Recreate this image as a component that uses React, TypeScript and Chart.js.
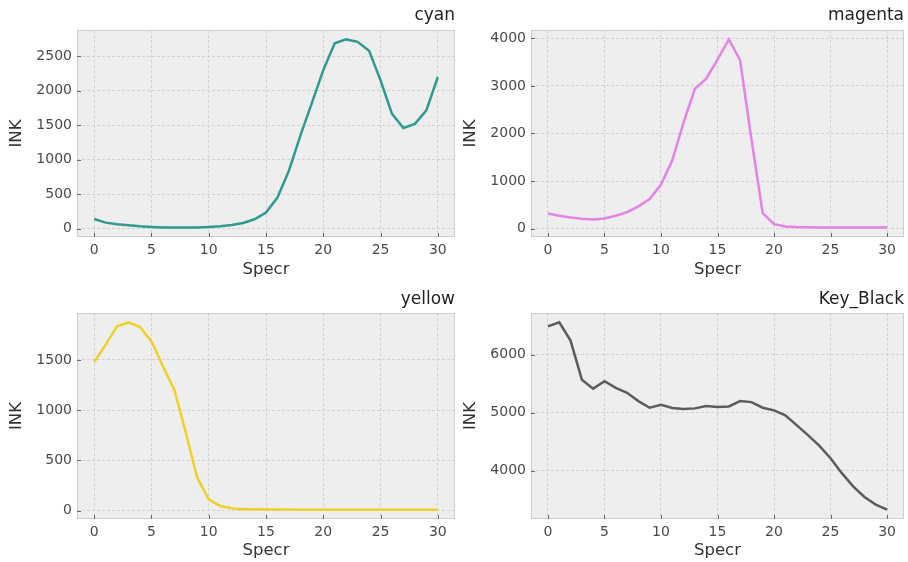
import React, { useEffect, useRef } from "react";
import { Chart, registerables } from "chart.js";

Chart.register(...registerables);

const specr = [0, 1, 2, 3, 4, 5, 6, 7, 8, 9, 10, 11, 12, 13, 14, 15, 16, 17, 18, 19, 20, 21, 22, 23, 24, 25, 26, 27, 28, 29, 30];

const cyanInk = [140, 87, 63, 49, 34, 24, 17, 15, 15, 17, 24, 34, 53, 82, 136, 233, 450, 840, 1350, 1820, 2300, 2690, 2745, 2710, 2580, 2150, 1665, 1460, 1520, 1715, 2200];
const magentaInk = [318, 269, 233, 205, 191, 212, 269, 346, 466, 622, 926, 1435, 2233, 2940, 3152, 3555, 3979, 3540, 1880, 325, 92, 42, 30, 26, 24, 22, 21, 20, 20, 20, 20];
const yellowInk = [1477, 1652, 1834, 1874, 1828, 1685, 1437, 1205, 775, 328, 113, 46, 23, 15, 13, 12, 11, 11, 10, 10, 10, 10, 10, 10, 10, 10, 10, 10, 10, 10, 10];
const blackInk = [6484, 6553, 6239, 5567, 5413, 5541, 5427, 5342, 5199, 5085, 5137, 5080, 5063, 5074, 5114, 5097, 5108, 5199, 5182, 5085, 5040, 4954, 4786, 4615, 4433, 4217, 3960, 3732, 3550, 3419, 3333];

const xTicks = [0, 5, 10, 15, 20, 25, 30];
const cyanTicks = [0, 500, 1000, 1500, 2000, 2500];
const magentaTicks = [0, 1000, 2000, 3000, 4000];
const yellowTicks = [0, 500, 1000, 1500];
const blackTicks = [4000, 5000, 6000];

const panelTitles = ["cyan", "magenta", "yellow", "Key_Black"];
const xLabel = "Specr";
const yLabel = "INK";

const FONT = "'DejaVu Sans', 'Liberation Sans', sans-serif";

type Panel = {
  title: string;
  values: number[];
  yTicks: number[];
  color: string;
  left: number;
  top: number;
  width: number;
  height: number;
  padRight: number;
  titleTop: number;
  titleBottom: number;
  xHeight: number;
};

const panels: Panel[] = [
  { title: panelTitles[0], values: cyanInk, yTicks: cyanTicks, color: "#2f9a92", left: 0, top: 0, width: 456, height: 281, padRight: 1, titleTop: 5, titleBottom: 4.6, xHeight: 44 },
  { title: panelTitles[1], values: magentaInk, yTicks: magentaTicks, color: "#e682e6", left: 454, top: 0, width: 454, height: 281, padRight: 4, titleTop: 5, titleBottom: 4.6, xHeight: 44 },
  { title: panelTitles[2], values: yellowInk, yTicks: yellowTicks, color: "#efd02a", left: 0, top: 281, width: 456, height: 281, padRight: 1, titleTop: 8.5, titleBottom: 3.1, xHeight: 43 },
  { title: panelTitles[3], values: blackInk, yTicks: blackTicks, color: "#5c5c5c", left: 454, top: 281, width: 454, height: 281, padRight: 4, titleTop: 8.5, titleBottom: 3.1, xHeight: 43 },
];

const framePlugin = {
  id: "frame",
  beforeDraw(chart: any) {
    const { ctx, chartArea: a } = chart;
    ctx.save();
    ctx.fillStyle = "#eeeeee";
    ctx.fillRect(a.left, a.top, a.right - a.left, a.bottom - a.top);
    ctx.restore();
  },
  afterDraw(chart: any) {
    const { ctx, chartArea: a, scales } = chart;
    ctx.save();
    ctx.strokeStyle = "#cfcfcf";
    ctx.lineWidth = 1;
    ctx.strokeRect(a.left + 0.5, a.top + 0.5, a.right - a.left - 1, a.bottom - a.top - 1);
    ctx.strokeStyle = "#666666";
    ctx.lineWidth = 1;
    ctx.beginPath();
    for (const t of scales.x.ticks) {
      const px = Math.round(scales.x.getPixelForValue(t.value)) + 0.5;
      ctx.moveTo(px, a.bottom);
      ctx.lineTo(px, a.bottom - 4);
    }
    for (const t of scales.y.ticks) {
      const py = Math.round(scales.y.getPixelForValue(t.value)) + 0.5;
      ctx.moveTo(a.left, py);
      ctx.lineTo(a.left + 4, py);
    }
    ctx.stroke();
    ctx.restore();
  },
};

function PanelChart({ p }: { p: Panel }) {
  const ref = useRef<HTMLCanvasElement | null>(null);
  useEffect(() => {
    if (!ref.current) return;
    const minV = Math.min(...p.values);
    const maxV = Math.max(...p.values);
    const margin = (maxV - minV) * 0.05;
    const chart = new Chart(ref.current, {
      type: "line",
      data: {
        datasets: [
          {
            data: p.values.map((v, i) => ({ x: specr[i], y: v })),
            borderColor: p.color,
            borderWidth: 2.5,
            pointRadius: 0,
            tension: 0,
            fill: false,
          },
        ],
      },
      plugins: [framePlugin],
      options: {
        animation: false,
        responsive: false,
        devicePixelRatio: 1,
        layout: { padding: { left: 0, right: p.padRight, top: 0, bottom: 0 } },
        plugins: {
          legend: { display: false },
          tooltip: { enabled: false },
          title: {
            display: true,
            text: p.title,
            align: "end",
            color: "#222222",
            font: { family: FONT, size: 17, weight: "normal" },
            padding: { top: p.titleTop, bottom: p.titleBottom },
          },
        },
        scales: {
          x: {
            type: "linear",
            min: -1.5,
            max: 31.5,
            afterFit: (s: any) => {
              s.height = p.xHeight;
            },
            afterBuildTicks: (s: any) => {
              s.ticks = xTicks.map((v) => ({ value: v }));
            },
            ticks: {
              padding: 5,
              color: "#4a4a4a",
              font: { family: FONT, size: 14 },
              maxRotation: 0,
              autoSkip: false,
              callback: (v: any) => String(v),
            },
            grid: { color: "#d2d2d2", lineWidth: 1, drawTicks: false },
            border: { display: false, dash: [3, 2] },
            title: {
              display: true,
              text: xLabel,
              color: "#333333",
              font: { family: FONT, size: 16.5 },
              padding: { top: 0, bottom: 1 },
            },
          },
          y: {
            type: "linear",
            min: minV - margin,
            max: maxV + margin,
            afterFit: (s: any) => {
              s.width = 77;
            },
            afterBuildTicks: (s: any) => {
              s.ticks = p.yTicks.map((v) => ({ value: v }));
            },
            ticks: {
              padding: 5,
              color: "#4a4a4a",
              font: { family: FONT, size: 14 },
              autoSkip: false,
              callback: (v: any) => String(v),
            },
            grid: { color: "#d2d2d2", lineWidth: 1, drawTicks: false },
            border: { display: false, dash: [3, 2] },
            title: {
              display: true,
              text: yLabel,
              color: "#333333",
              font: { family: FONT, size: 16.5 },
              padding: { top: 6.5, bottom: 0 },
            },
          },
        },
      },
    } as any);
    return () => chart.destroy();
  }, [p]);
  return (
    <canvas
      ref={ref}
      width={p.width}
      height={p.height}
      style={{ position: "absolute", left: p.left, top: p.top, width: p.width, height: p.height }}
    />
  );
}

export default function App() {
  return (
    <div
      style={{
        position: "fixed",
        left: 0,
        top: 0,
        width: 908,
        height: 562,
        overflow: "hidden",
        background: "#ffffff",
      }}
    >
      {panels.map((p) => (
        <PanelChart key={p.title} p={p} />
      ))}
    </div>
  );
}
